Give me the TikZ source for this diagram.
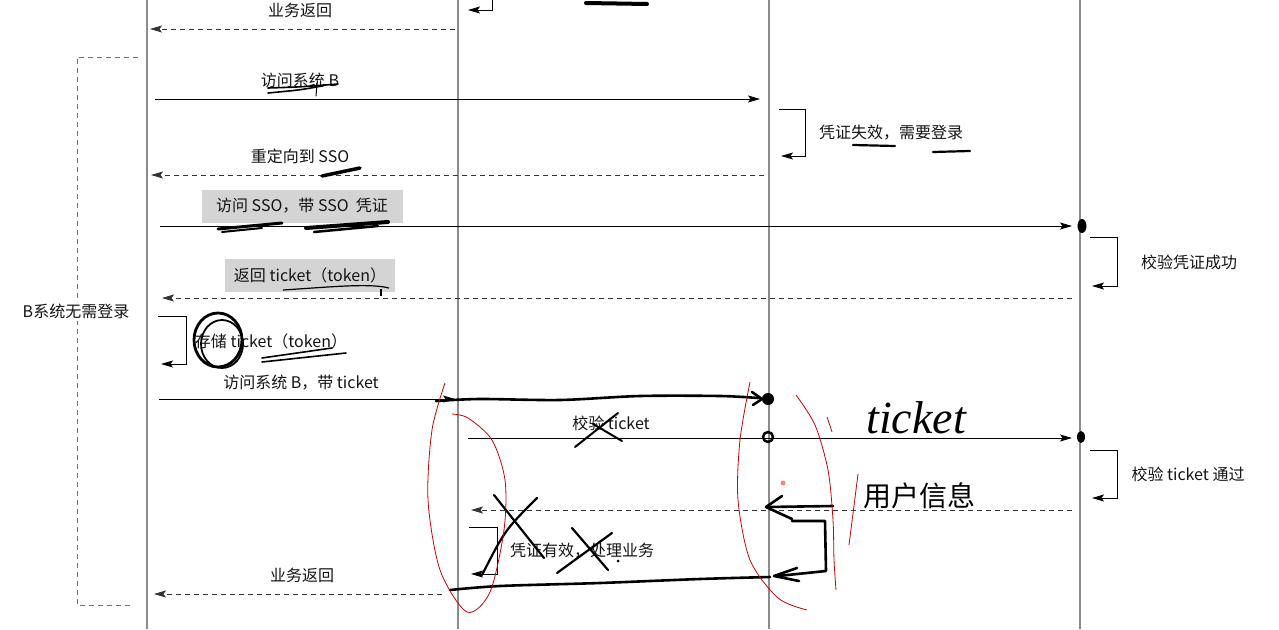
\documentclass[tikz,border=0pt]{standalone}
\usepackage{fontspec}
\setmainfont{Noto Sans CJK SC}
\newfontfamily\hand{Liberation Serif}
\usetikzlibrary{arrows.meta}
\begin{document}
\begin{tikzpicture}[x=1pt,y=-1pt,
  life/.style={draw=black!45, line width=1.2pt},
  msg/.style={draw=black, line width=0.9pt, -{Stealth[length=12pt,width=7pt,inset=2.5pt]}},
  ret/.style={msg, dash pattern=on 5pt off 4pt, draw=black!80},
  gdash/.style={draw=black!55, line width=0.9pt, dash pattern=on 5pt off 4pt},
  lbl/.style={font=\fontsize{16}{18}\selectfont, inner sep=1pt, text=black!92},
  hl/.style={lbl, fill=black!17, inner xsep=6pt, minimum height=33pt},
  ink/.style={draw=black, line width=2.6pt, line cap=round, line join=round},
  thinink/.style={draw=black, line width=1.6pt, line cap=round, line join=round},
  redink/.style={draw=red!80!black, line width=0.8pt},
]
\useasboundingbox[fill=white] (0,0) rectangle (1279,629);

% lifelines
\foreach \n/\x in {1/147,2/458,3/769,4/1080}{
  \coordinate (L\n t) at (\x,0);
  \coordinate (L\n b) at (\x,629);
  \draw[life] (L\n t) -- (L\n b);
}

% group bracket
\coordinate (g1) at (138,57); \coordinate (g2) at (77,57);
\coordinate (g3) at (77,605); \coordinate (g4) at (132,605);
\draw[gdash] (g1) -- (g2) -- (g3) -- (g4);
\node[lbl, fill=white, inner sep=3pt] (grp) at (76,311) {B系统无需登录};

% top partial self message
\coordinate (t0) at (492,0); \coordinate (t1) at (468,10);
\draw[msg] (t0) |- (t1);

% message 0: 业务返回 (top)
\coordinate (m0s) at (455,29); \coordinate (m0e) at (150,29);
\draw[ret] (m0s) -- (m0e);
\node[lbl] (m0l) at (300,10) {业务返回};

% message 1
\coordinate (m1s) at (155,99); \coordinate (m1e) at (760,99);
\draw[msg] (m1s) -- (m1e);
\node[lbl] (m1l) at (300,80) {访问系统 B};

% self: 凭证失效
\coordinate (s1a) at (779,109); \coordinate (s1b) at (781,156);
\draw[msg] (s1a) -- ++(26,0) |- (s1b);
\node[lbl] (s1l) at (891,133) {凭证失效，需要登录};

% message 2
\coordinate (m2s) at (764,175); \coordinate (m2e) at (151,175);
\draw[ret] (m2s) -- (m2e);
\node[lbl] (m2l) at (300,156) {重定向到 SSO};

% message 3
\node[hl, minimum width=201pt] (m3l) at (302,206) {访问 SSO，带 SSO\ \ 凭证};
\coordinate (m3s) at (160,226); \coordinate (m3e) at (1072,226);
\draw[msg] (m3s) -- (m3e);

% self: 校验凭证成功
\coordinate (s2a) at (1090,237); \coordinate (s2b) at (1092,286);
\draw[msg] (s2a) -- ++(27,0) |- (s2b);
\node[lbl] (s2l) at (1189,262) {校验凭证成功};

% message 4
\node[hl, minimum width=170pt] (m4l) at (310,275) {返回 ticket（token）};
\coordinate (m4s) at (1072,298); \coordinate (m4e) at (162,298);
\draw[ret] (m4s) -- (m4e);

% self: 存储 ticket
\coordinate (s3a) at (158,316); \coordinate (s3b) at (161,364);
\draw[msg] (s3a) -- ++(28,0) |- (s3b);
\node[lbl] (s3l) at (271,341) {存储 ticket（token）};

% message 5
\coordinate (m5s) at (159,399); \coordinate (m5e) at (455,399);
\draw[msg] (m5s) -- (m5e);
\node[lbl] (m5l) at (301,383) {访问系统 B，带 ticket};

% message 6
\coordinate (m6s) at (468,438); \coordinate (m6e) at (1072,438);
\draw[msg] (m6s) -- (m6e);
\node[lbl] (m6l) at (611,423) {校验 ticket};

% self: 校验 ticket 通过
\coordinate (s4a) at (1090,450); \coordinate (s4b) at (1092,498);
\draw[msg] (s4a) -- ++(27,0) |- (s4b);
\node[lbl] (s4l) at (1188,474) {校验 ticket 通过};

% message 7
\coordinate (m7s) at (1072,510); \coordinate (m7e) at (471,510);
\draw[ret] (m7s) -- (m7e);

% self: 凭证有效
\coordinate (s5a) at (469,527); \coordinate (s5b) at (471,574);
\draw[msg] (s5a) -- ++(28,0) |- (s5b);
\node[lbl] (s5l) at (582,551) {凭证有效，处理业务};

% message 8
\coordinate (m8s) at (442,594); \coordinate (m8e) at (154,594);
\draw[ret] (m8s) -- (m8e);
\node[lbl] (m8l) at (302,575) {业务返回};

% ---------- handwritten annotations ----------
\draw[ink, line width=4pt] (586,3) -- (647,4);
\draw[thinink] (268,88) .. controls (300,87) .. (338,84);
\draw[thinink] (268,93) .. controls (300,90) .. (322,86);
\draw[thinink, line width=1pt] (317,83) -- (316,96);
\draw[ink, line width=3.5pt] (322,176) -- (360,168);
\draw[ink, line width=3pt] (218,229) -- (282,223);
\draw[ink, line width=2pt] (222,232) -- (262,228);
\draw[ink, line width=4pt] (306,228) -- (388,222);
\draw[ink, line width=2.5pt] (314,232) -- (378,226);
\draw[draw=black, line width=1.2pt] (283,290) .. controls (330,287) and (370,283) .. (389,288);
\draw[draw=black, line width=1.2pt] (381,289) -- (381,296);
\draw[ink, line width=2.8pt] (218,340) ellipse (24pt and 27pt);
\draw[ink, line width=1.8pt] (222,344) ellipse (21pt and 24pt);
\draw[thinink] (262,358) -- (332,348);
\draw[thinink] (262,362) -- (346,353);
\draw[ink, line width=2.2pt] (853,145) -- (895,146);
\draw[ink, line width=2.2pt] (933,152) -- (970,151);

% thick line over message 5
\draw[ink] plot[smooth] coordinates {(436,401) (480,399) (560,400) (640,396) (720,396) (758,398)};
\draw[ink] (752,392) -- (762,399) -- (753,405);
\fill (768,399) circle (6pt);
\draw[ink, line width=2.5pt] (768,437) circle (5pt);
\fill (1082,226) ellipse (4.5pt and 7pt);
\fill (1081,437) ellipse (4pt and 6pt);

% crosses
\draw[thinink, line width=2pt] (575,447) -- (618,413);
\draw[thinink, line width=2pt] (593,424) -- (622,441);
\draw[thinink, line width=2.2pt] (494,495) -- (544,558);
\draw[thinink, line width=2.2pt] (537,498) .. controls (505,530) .. (482,575);
\draw[thinink, line width=2.2pt] (572,528) -- (608,570);
\draw[thinink, line width=2.2pt] (612,533) -- (557,573);
\fill (618,561) circle (1.5pt);

% hand-drawn return path
\draw[ink] (833,506) -- (767,507);
\draw[ink] (782,496) -- (766,507) -- (792,519);
\draw[ink] (792,521) -- (825,521) -- (826,571) -- (778,576);
\draw[ink] (797,568) -- (774,576) -- (799,581);
\draw[ink] plot[smooth] coordinates {(770,577) (700,579) (600,583) (500,586) (450,590)};

% red marks
\draw[redink] plot[smooth] coordinates {(445,383) (432,430) (428,500) (440,570) (467,612) (490,592) (504,530) (505,480) (492,440) (468,418) (452,414)};
\draw[redink] plot[smooth] coordinates {(750,382) (740,440) (738,500) (750,560) (778,598) (807,610)};
\draw[redink] plot[smooth] coordinates {(796,395) (815,425) (828,470) (833,520) (834,560) (836,590)};
\draw[redink] (827,417) -- (832,432);
\draw[redink] (858,474) -- (849,545);
\fill[red!50] (783,483) circle (2.5pt);

% handwritten words
\node[font=\hand\itshape\fontsize{46}{46}\selectfont] (hw1) at (916,418) {ticket};
\node[font=\fontsize{28}{30}\selectfont] (hw2) at (919,496) {用户信息};
\end{tikzpicture}
\end{document}
